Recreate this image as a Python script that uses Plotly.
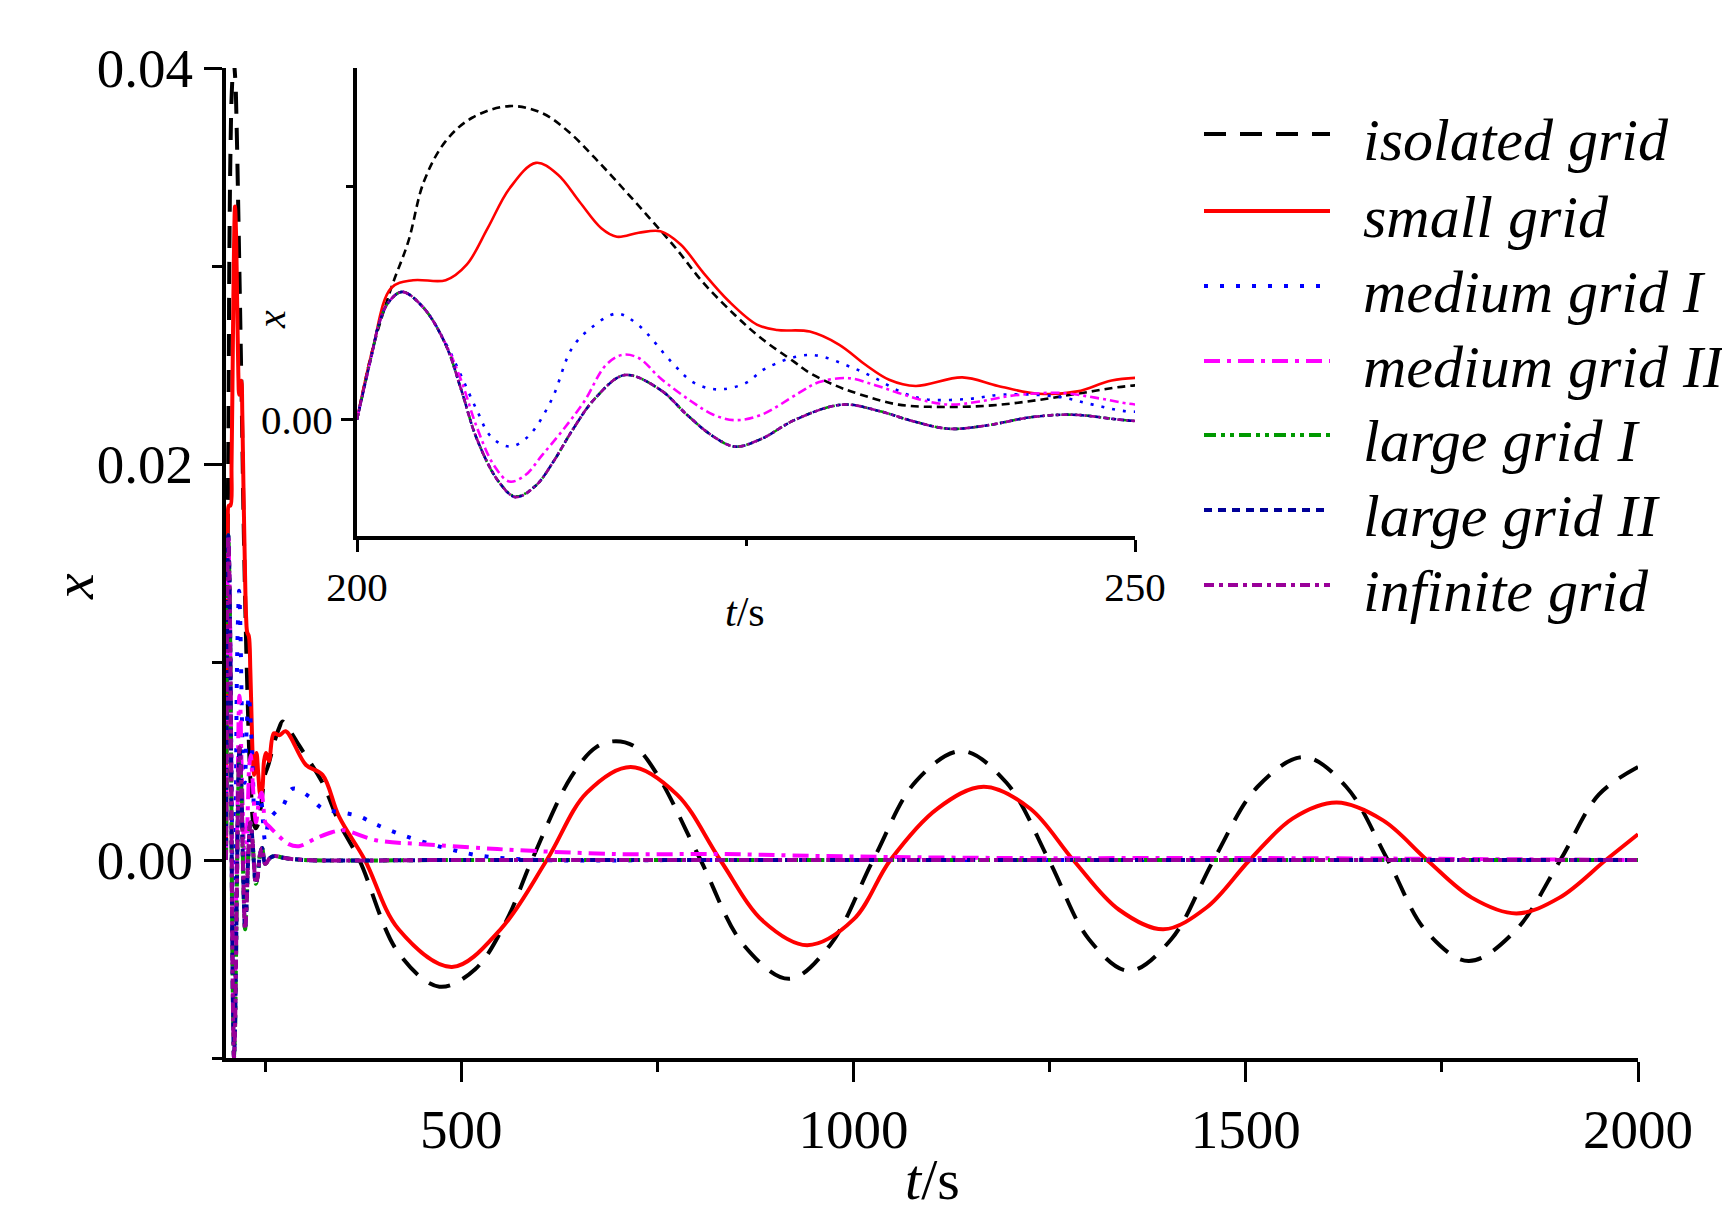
"""
    grid strength comparison: x(t) after a disturbance, with a zoomed inset for 200-250 s
"""
##########==========##########==========##########==========##########==========##########==========
## header

## import packages
import plotly.graph_objects as go

## set parameters
params = dict(
    width = 1730,
    height = 1228,
    font = 'Liberation Serif',
    fgcolor = 'black',
    bgcolor = 'white',
    main_width = 4,
    inset_width = 2.6,
)

##########==========##########==========##########==========##########==========##########==========
## data

series_names = [
    'isolated grid', 'small grid', 'medium grid I', 'medium grid II',
    'large grid I', 'large grid II', 'infinite grid'
]

t_isolated = [
    200, 201.0, 202.2, 203.3, 204.3, 205.7, 207.4, 209.8, 211.9, 213.6, 215.3, 217.1, 218.8,
    220.5, 222.2, 224.3, 226.0, 228.1, 229.0, 230.7, 232.2, 234.8, 237.8, 240.8, 243.8, 246.6,
    249.6, 254, 262, 268, 272, 282, 293, 323, 344, 370, 420, 472, 518, 557, 590, 640, 672, 697,
    722, 750, 805, 860, 918, 970, 1025, 1080, 1138, 1195, 1249, 1300, 1351, 1405, 1459, 1515,
    1574, 1628, 1681, 1730, 1784, 1843, 1901, 1950, 2000
]
x_isolated = [
    0, 0.0090, 0.0169, 0.0229, 0.0306, 0.0358, 0.0388, 0.0403, 0.0394, 0.0370, 0.0336, 0.0297,
    0.0259, 0.0220, 0.0177, 0.0134, 0.0104, 0.0074, 0.0061, 0.0044, 0.0033, 0.0019, 0.0016,
    0.0018, 0.0025, 0.0034, 0.0043, 0.0048, 0.0060, 0.0067, 0.0070, 0.0065, 0.0058, 0.0039,
    0.0019, 0.0, -0.0047, -0.0064, -0.0055, -0.0031, 0.0, 0.0042, 0.0057, 0.0060, 0.0057,
    0.0043, 0.0, -0.0043, -0.0060, -0.0043, 0.0, 0.0040, 0.0055, 0.0039, 0.0, -0.0040, -0.0056,
    -0.0040, 0.0, 0.0037, 0.0052, 0.0037, 0.0, -0.0036, -0.0051, -0.0036, 0.0, 0.0033, 0.0047
]

t_small = [
    200, 201.0, 202.2, 203.6, 205.7, 207.05, 208.4, 209.8, 211.5, 212.9, 214.3, 215.7, 216.7,
    218.1, 219.5, 220.8, 222.2, 223.9, 225.7, 227.0, 229.1, 231.0, 232.7, 234.2, 235.9, 238.9,
    241.2, 243.8, 246.3, 248.5, 251, 254.8, 261, 268, 276, 302, 323, 344, 377, 420, 488, 550,
    609, 660, 716, 775, 830, 885, 941, 1000, 1047, 1107, 1166, 1225, 1280, 1338, 1395, 1450,
    1505, 1560, 1616, 1675, 1731, 1788, 1845, 1900, 1959, 2000
]
x_small = [
    0, 0.0090, 0.0169, 0.0179, 0.0179, 0.0199, 0.0246, 0.0297, 0.0330, 0.0315, 0.0280, 0.0246,
    0.0235, 0.0240, 0.0242, 0.0225, 0.0190, 0.0152, 0.0122, 0.0115, 0.0113, 0.0096, 0.0070,
    0.0051, 0.0043, 0.0054, 0.0043, 0.0033, 0.0036, 0.0050, 0.0054, 0.0050, 0.0064, 0.0063,
    0.0065, 0.0048, 0.0043, 0.0022, 0.0, -0.0035, -0.0054, -0.0035, 0.0, 0.0034, 0.0047,
    0.0033, 0.0, -0.0031, -0.0043, -0.0030, 0.0, 0.0026, 0.0037, 0.0026, 0.0, -0.0025, -0.0035,
    -0.0024, 0.0, 0.0021, 0.0029, 0.0020, 0.0, -0.0019, -0.0027, -0.0019, 0.0, 0.0013
]

t_medium_1 = [
    200, 201.0, 201.4, 202.0, 202.9, 204.3, 205.7, 206.7, 207.7, 208.6, 209.8, 211.0, 212.5,
    213.8, 215.0, 216.7, 218.1, 220.2, 221.5, 222.6, 223.6, 225.0, 226.3, 229.1, 231.9, 233.4,
    235.0, 236.5, 239.1, 241.6, 245.1, 247.3, 249.8, 255, 265, 272, 285, 306, 323, 348, 370,
    391, 429, 480, 527, 600, 800, 1200, 2000
]
x_medium_1 = [
    0, 0.0088, 0.0122, 0.0150, 0.0164, 0.0143, 0.0098, 0.0056, 0.0012, -0.0022, -0.0035,
    -0.0022, 0.0025, 0.0091, 0.0117, 0.0136, 0.0121, 0.0074, 0.0049, 0.0040, 0.0039, 0.0047,
    0.0066, 0.0083, 0.0066, 0.0052, 0.0035, 0.0026, 0.0026, 0.0032, 0.0029, 0.0019, 0.0010,
    0.0020, 0.0025, 0.0027, 0.0036, 0.0032, 0.0026, 0.0024, 0.0022, 0.0018, 0.0012, 0.0006,
    0.0002, 0.0, 0.0, 0.0, 0.0
]

t_medium_2 = [
    200, 201.0, 201.4, 202.0, 202.9, 204.3, 205.7, 206.7, 207.7, 208.8, 209.8, 210.8, 211.9,
    213.3, 214.6, 216.0, 217.05, 218.1, 219.5, 221.5, 222.9, 224.3, 226.0, 228.4, 229.7, 231.6,
    233.3, 234.8, 236.7, 238.2, 240.0, 242.3, 245.3, 247.7, 250.1, 255, 265, 280, 293, 315, 335,
    350, 391, 450, 527, 570, 700, 830, 960, 1200, 1500, 2000
]
x_medium_2 = [
    0, 0.0088, 0.0122, 0.0150, 0.0164, 0.0143, 0.0097, 0.0050, -0.0010, -0.0059, -0.0080,
    -0.0072, -0.0046, -0.0012, 0.0023, 0.0070, 0.0083, 0.0079, 0.0053, 0.0023, 0.0006, -0.0001,
    0.0006, 0.0034, 0.0048, 0.0053, 0.0044, 0.0034, 0.0023, 0.0019, 0.0023, 0.0031, 0.0034,
    0.0027, 0.0019, 0.0017, 0.0013, 0.0008, 0.0007, 0.0011, 0.0014, 0.0015, 0.0010, 0.0008,
    0.0006, 0.0005, 0.0003, 0.0003, 0.0002, 0.0001, 0.0001, 0.0
]

t_large = [
    200, 201.0, 201.4, 202.0, 202.9, 204.3, 205.7, 206.7, 207.7, 209.1, 210.2, 211.5, 212.6,
    213.9, 215.3, 217.2, 219.5, 221.2, 222.9, 224.3, 226.0, 228.1, 231.2, 233.7, 235.5, 238.0,
    240.4, 243.4, 246.0, 250.1, 256, 262, 275, 300, 500, 2000
]
x_large_1 = [
    0, 0.0088, 0.0122, 0.0150, 0.0164, 0.0143, 0.0096, 0.0038, -0.0025, -0.0080, -0.0099,
    -0.0085, -0.0055, -0.0012, 0.0027, 0.0057, 0.0038, 0.0006, -0.0022, -0.0035, -0.0025,
    -0.0001, 0.0019, 0.0010, -0.0001, -0.0012, -0.0008, 0.0003, 0.0006, -0.0002, 0.0001,
    0.0002, 0.0001, 0.0, 0.0, 0.0
]
x_large_2 = [
    0, 0.0088, 0.0122, 0.0150, 0.0164, 0.0143, 0.0096, 0.0038, -0.0025, -0.0080, -0.0100,
    -0.0085, -0.0055, -0.0012, 0.0027, 0.0057, 0.0038, 0.0006, -0.0022, -0.0035, -0.0025,
    -0.0001, 0.0019, 0.0010, -0.0001, -0.0012, -0.0008, 0.0003, 0.0006, -0.0002, 0.0001,
    0.0002, 0.0001, 0.0, 0.0, 0.0
]
x_infinite = [
    0, 0.0088, 0.0122, 0.0150, 0.0164, 0.0143, 0.0096, 0.0038, -0.0025, -0.0080, -0.0100,
    -0.0085, -0.0055, -0.0012, 0.0027, 0.0057, 0.0038, 0.0006, -0.0022, -0.0035, -0.0025,
    -0.0001, 0.0019, 0.0010, -0.0001, -0.0012, -0.0008, 0.0003, 0.0006, -0.0002, 0.0001,
    0.0002, 0.0001, 0.0, 0.0, 0.0
]

series_t = [t_isolated, t_small, t_medium_1, t_medium_2, t_large, t_large, t_large]
series_x = [x_isolated, x_small, x_medium_1, x_medium_2, x_large_1, x_large_2, x_infinite]

## line looks: main plot dash, inset dash
series_style = [
    dict(color = 'black', main = '22px,14px', inset = '8px,5px'),
    dict(color = '#ff0000', main = 'solid', inset = 'solid'),
    dict(color = '#0000ff', main = '4px,12px', inset = '3px,8px'),
    dict(color = '#ff00ff', main = '16px,7px,4px,7px', inset = '9px,4px,3px,4px'),
    dict(color = '#009900', main = '12px,5px,4px,5px,4px,5px', inset = '6px,3px,2px,3px,2px,3px'),
    dict(color = '#000099', main = '8px,6px', inset = '5px,3px'),
    dict(color = '#990099', main = '10px,5px,4px,5px', inset = '6px,3px,2px,3px'),
]

##########==========##########==========##########==========##########==========##########==========
## layout helpers

## plot box in pixels (left, right, top, bottom)
main_box = (218, 1630, 60, 1050)
inset_box = (349, 1127, 60, 528)


def px_to_paper(x_px = None, y_px = None):
    """
        convert page pixels to paper coordinates of the main plot box
    """
    l, r, t, b = main_box
    out = []
    if x_px is not None:
        out.append((x_px - l) / (r - l))
    if y_px is not None:
        out.append((b - y_px) / (b - t))
    return out[0] if len(out) == 1 else out


def axis_style(size, ticklen, minor_len, linewidth = 4):
    """
        common axis look
    """
    return dict(
        showline = True, linecolor = params['fgcolor'], linewidth = linewidth,
        ticks = 'outside', ticklen = ticklen, tickwidth = 3, tickcolor = params['fgcolor'],
        minor = dict(ticks = 'outside', ticklen = minor_len, tickwidth = 3,
                     tickcolor = params['fgcolor']),
        showgrid = False, zeroline = False,
        tickfont = dict(family = params['font'], size = size, color = params['fgcolor']),
    )

##########==========##########==========##########==========##########==========##########==========
## draw the figure

fig = go.Figure()

for name, tt, xx, st in zip(series_names, series_t, series_x, series_style):
    fig.add_trace(go.Scatter(
        x = tt, y = xx, name = name, mode = 'lines', showlegend = False,
        line = dict(color = st['color'], dash = st['main'], width = params['main_width'],
                    shape = 'spline'),
        xaxis = 'x', yaxis = 'y'))
    fig.add_trace(go.Scatter(
        x = tt, y = xx, name = name, mode = 'lines', showlegend = False,
        line = dict(color = st['color'], dash = st['inset'], width = params['inset_width'],
                    shape = 'spline'),
        xaxis = 'x2', yaxis = 'y2'))

l, r, t, b = main_box
x2_dom = [px_to_paper(x_px = inset_box[0]), px_to_paper(x_px = inset_box[1])]
y2_dom = [px_to_paper(y_px = inset_box[3]), px_to_paper(y_px = inset_box[2])]

fig.update_layout(
    width = params['width'], height = params['height'],
    margin = dict(l = l, r = params['width'] - r, t = t, b = params['height'] - b, pad = 0),
    paper_bgcolor = params['bgcolor'], plot_bgcolor = params['bgcolor'],
    showlegend = False,
    xaxis = dict(domain = [0, 1], anchor = 'y', range = [200, 2000], tick0 = 0, dtick = 500,
                 **axis_style(55, 20, 10)),
    yaxis = dict(domain = [0, 1], anchor = 'x', range = [-0.01, 0.04], tick0 = 0, dtick = 0.02,
                 tickformat = '.2f', **axis_style(55, 18, 10)),
    xaxis2 = dict(domain = x2_dom, anchor = 'y2', range = [200, 250], tick0 = 200, dtick = 50,
                  **axis_style(41, 12, 6)),
    yaxis2 = dict(domain = y2_dom, anchor = 'x2', range = [-0.015, 0.0452], tick0 = 0, dtick = 0.06,
                  tickformat = '.2f', **axis_style(41, 12, 7)),
)
fig.update_layout(xaxis_minor_dtick = 250, yaxis_minor_dtick = 0.01,
                  xaxis2_minor_dtick = 25, yaxis2_minor_dtick = 0.03)

## axis titles
title_font = dict(family = params['font'], color = params['fgcolor'])
titles = [
    ('<i>x</i>', 66, 579, 58, -90),
    ('<i>t</i>/s', 924, 1171, 58, 0),
    ('<i>x</i>', 263, 312, 40, -90),
    ('<i>t</i>/s', 737, 604, 42, 0),
]
for text, xp, yp, size, angle in titles:
    xx, yy = px_to_paper(xp, yp)
    fig.add_annotation(text = text, x = xx, y = yy, xref = 'paper', yref = 'paper',
                       xanchor = 'center', yanchor = 'middle', showarrow = False,
                       textangle = angle, font = dict(size = size, **title_font))

## legend drawn by hand so the samples are long like the original
legend_rows = [126, 203, 278, 353, 427, 502, 577]
for name, st, yp in zip(series_names, series_style, legend_rows):
    x0, yy = px_to_paper(1196, yp)
    x1 = px_to_paper(x_px = 1322)
    fig.add_shape(type = 'line', xref = 'paper', yref = 'paper', x0 = x0, x1 = x1, y0 = yy, y1 = yy,
                  line = dict(color = st['color'], dash = st['main'], width = params['main_width']))
    xt, yt = px_to_paper(1353, yp + 6)
    fig.add_annotation(text = '<i>' + name + '</i>', x = xt, y = yt, xref = 'paper', yref = 'paper',
                       xanchor = 'left', yanchor = 'middle', showarrow = False,
                       font = dict(size = 60, **title_font))

fig.write_html('out.html')

##########==========##########==========##########==========##########==========##########==========
